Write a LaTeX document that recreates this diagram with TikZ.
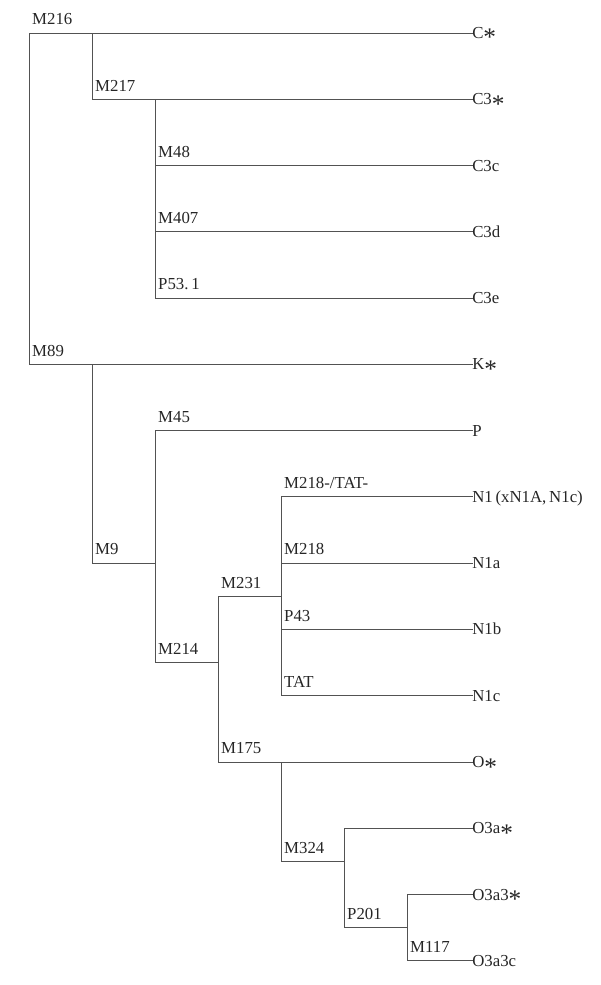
\documentclass[tikz,border=0pt]{standalone}
\usepackage{fontspec}
\setmainfont{Liberation Serif}
\newcommand\starx{\raisebox{-5.6pt}{\fontsize{19}{19}\selectfont *}}
\begin{document}
\begin{tikzpicture}[x=0.75pt,y=-0.75pt,
  branch/.style={draw=black!68,line width=0.75pt,line cap=rect},
  leaf/.style={anchor=west,inner sep=0pt,text height=8.2pt,text depth=0pt,font=\fontsize{12.6}{14}\selectfont,text=black!85},
  lab/.style={anchor=south west,inner xsep=2.2pt,inner ysep=6pt,text height=8.2pt,text depth=0pt,font=\fontsize{12.6}{14}\selectfont,text=black!85}]
\useasboundingbox (0,0) rectangle (600,985);
% columns
\def\xa{29}\def\xb{92}\def\xc{155}\def\xd{218}\def\xe{281}\def\xf{344}\def\xg{407}\def\xl{472}
% branch points
\coordinate (n216) at (\xa,33);
\coordinate (n89) at (\xa,364.4);
\coordinate (n217t) at (\xb,33);
\coordinate (n217) at (\xb,99.28);
\coordinate (c2t) at (\xc,99.28);
\coordinate (n48) at (\xc,165.56);
\coordinate (n407) at (\xc,231.84);
\coordinate (n531) at (\xc,298.12);
\coordinate (n9t) at (\xb,364.4);
\coordinate (n9) at (\xb,563.24);
\coordinate (n9e) at (\xc,563.24);
\coordinate (n45) at (\xc,430.68);
\coordinate (n214) at (\xc,662.66);
\coordinate (n214e) at (\xd,662.66);
\coordinate (n231) at (\xd,596.38);
\coordinate (n231e) at (\xe,596.38);
\coordinate (n175) at (\xd,762.08);
\coordinate (n218x) at (\xe,496.96);
\coordinate (n218) at (\xe,563.24);
\coordinate (n43) at (\xe,629.52);
\coordinate (ntat) at (\xe,695.8);
\coordinate (n324t) at (\xe,762.08);
\coordinate (n324) at (\xe,861.5);
\coordinate (n324e) at (\xf,861.5);
\coordinate (o3a) at (\xf,828.36);
\coordinate (n201) at (\xf,927.78);
\coordinate (n201e) at (\xg,927.78);
\coordinate (o3a3) at (\xg,894.64);
\coordinate (n117) at (\xg,960.92);
% leaves
\node[leaf] (Cs) at (\xl,33) {C\starx};
\node[leaf] (C3s) at (\xl,99.28) {C3\starx};
\node[leaf] (C3c) at (\xl,165.56) {C3c};
\node[leaf] (C3d) at (\xl,231.84) {C3d};
\node[leaf] (C3e) at (\xl,298.12) {C3e};
\node[leaf] (Ks) at (\xl,364.4) {K\starx};
\node[leaf] (P) at (\xl,430.68) {P};
\node[leaf] (N1) at (\xl,496.96) {N1\,(xN1A,\,N1c)};
\node[leaf] (N1a) at (\xl,563.24) {N1a};
\node[leaf] (N1b) at (\xl,629.52) {N1b};
\node[leaf] (N1c) at (\xl,695.8) {N1c};
\node[leaf] (Os) at (\xl,762.08) {O\starx};
\node[leaf] (O3as) at (\xl,828.36) {O3a\starx};
\node[leaf] (O3a3s) at (\xl,894.64) {O3a3\starx};
\node[leaf] (O3a3c) at (\xl,960.92) {O3a3c};
% internal labels
\node[lab] (lM216) at (n216) {M216};
\node[lab] (lM217) at (n217) {M217};
\node[lab] (lM48) at (n48) {M48};
\node[lab] (lM407) at (n407) {M407};
\node[lab] (lP531) at (n531) {P53.\,1};
\node[lab] (lM89) at (n89) {M89};
\node[lab] (lM45) at (n45) {M45};
\node[lab] (lM218x) at (n218x) {M218-/TAT-};
\node[lab] (lM9) at (n9) {M9};
\node[lab] (lM218) at (n218) {M218};
\node[lab] (lM231) at (n231) {M231};
\node[lab] (lP43) at (n43) {P43};
\node[lab] (lM214) at (n214) {M214};
\node[lab] (lTAT) at (ntat) {TAT};
\node[lab] (lM175) at (n175) {M175};
\node[lab] (lM324) at (n324) {M324};
\node[lab] (lP201) at (n201) {P201};
\node[lab] (lM117) at (n117) {M117};
% connectors
\draw[branch] (n216) -- (Cs.west);
\draw[branch] (n216) -- (n89) -- (Ks.west);
\draw[branch] (n217t) -- (n217) -- (C3s.west);
\draw[branch] (c2t) -- (n531);
\draw[branch] (n48) -- (C3c.west);
\draw[branch] (n407) -- (C3d.west);
\draw[branch] (n531) -- (C3e.west);
\draw[branch] (n9t) -- (n9) -- (n9e);
\draw[branch] (n45) -- (n214) -- (n214e);
\draw[branch] (n45) -- (P.west);
\draw[branch] (n231) -- (n175) -- (Os.west);
\draw[branch] (n231) -- (n231e);
\draw[branch] (n218x) -- (ntat);
\draw[branch] (n218x) -- (N1.west);
\draw[branch] (n218) -- (N1a.west);
\draw[branch] (n43) -- (N1b.west);
\draw[branch] (ntat) -- (N1c.west);
\draw[branch] (n324t) -- (n324) -- (n324e);
\draw[branch] (o3a) -- (n201) -- (n201e);
\draw[branch] (o3a) -- (O3as.west);
\draw[branch] (o3a3) -- (n117) -- (O3a3c.west);
\draw[branch] (o3a3) -- (O3a3s.west);
\end{tikzpicture}
\end{document}
